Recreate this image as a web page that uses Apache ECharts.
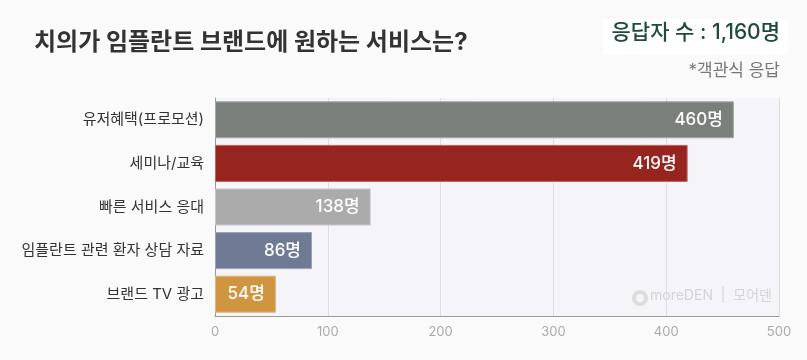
<!DOCTYPE html>
<html><head><meta charset="utf-8">
<script src="https://cdn.jsdelivr.net/npm/echarts@6/dist/echarts.min.js"></script>
<style>html,body{margin:0;padding:0;background:#fafafa;}#c{width:807px;height:360px;}</style>
</head><body><div id="c"></div>
<script>
const categories = ['유저혜택(프로모션)', '세미나/교육', '빠른 서비스 응대', '임플란트 관련 환자 상담 자료', '브랜드 TV 광고'];
const values = [460, 419, 138, 86, 54];
const barColors = ['#7a7f7c', '#97251f', '#ababab', '#6f7b94', '#cf9540'];
const borderColors = ['#a4a8a6', '#c0625d', '#c6c6c6', '#99a3b7', '#e0b67a'];
const xTicks = [0, 100, 200, 300, 400, 500];
const title = '치의가 임플란트 브랜드에 원하는 서비스는?';
const respondents = '응답자 수 : 1,160명';
const note = '*객관식 응답';
const FONT = 'Inter, "Noto Sans CJK KR", sans-serif';

const chart = echarts.init(document.getElementById('c'));
chart.setOption({
  backgroundColor: '#fafafa',
  animation: false,
  textStyle: { fontFamily: FONT },
  grid: { left: 215, right: 28, top: 98, bottom: 44, show: true, backgroundColor: '#f5f4f8', borderWidth: 0 },
  graphic: [
    { type: 'text', left: 34, top: 31, style: { text: title, font: 'bold 24px ' + FONT, fill: '#333' } },
    { type: 'rect', shape: { x: 603, y: 19, width: 185, height: 35 }, style: { fill: '#ffffff' } },
    { type: 'text', right: 27, top: 22, style: { text: respondents, font: '500 21px ' + FONT, fill: '#1f4a3d' } },
    { type: 'text', right: 27, top: 62, style: { text: note, font: '17px ' + FONT, fill: '#777' } },
    { type: 'circle', shape: { cx: 640, cy: 298, r: 6 }, style: { fill: 'none', stroke: '#dcdcdc', lineWidth: 4 } },
    { type: 'text', left: 650, top: 289, style: { text: 'moreDEN  |  모어덴', font: '14px ' + FONT, fill: '#d4d4d6' } }
  ],
  xAxis: {
    type: 'value', min: 0, max: 500, interval: 100,
    axisLine: { show: true, lineStyle: { color: '#999' } },
    axisTick: { show: false },
    axisLabel: { color: '#aaa', fontSize: 13, margin: 10, formatter: v => xTicks.includes(v) ? String(v) : '' },
    splitLine: { show: true, lineStyle: { color: '#dedde2' } }
  },
  yAxis: {
    type: 'category', data: categories, inverse: true,
    axisLine: { show: true, lineStyle: { color: '#999' } },
    axisTick: { show: false },
    axisLabel: { color: '#333', fontSize: 15, margin: 11 }
  },
  series: [{
    type: 'bar',
    barWidth: 37,
    data: values.map((v, i) => ({ value: v, itemStyle: { color: barColors[i], borderColor: borderColors[i], borderWidth: 1 } })),
    label: { show: true, position: 'insideRight', distance: 11, color: '#fff', fontSize: 17, fontWeight: 500, formatter: p => p.value + '명' }
  }]
});
</script></body></html>
